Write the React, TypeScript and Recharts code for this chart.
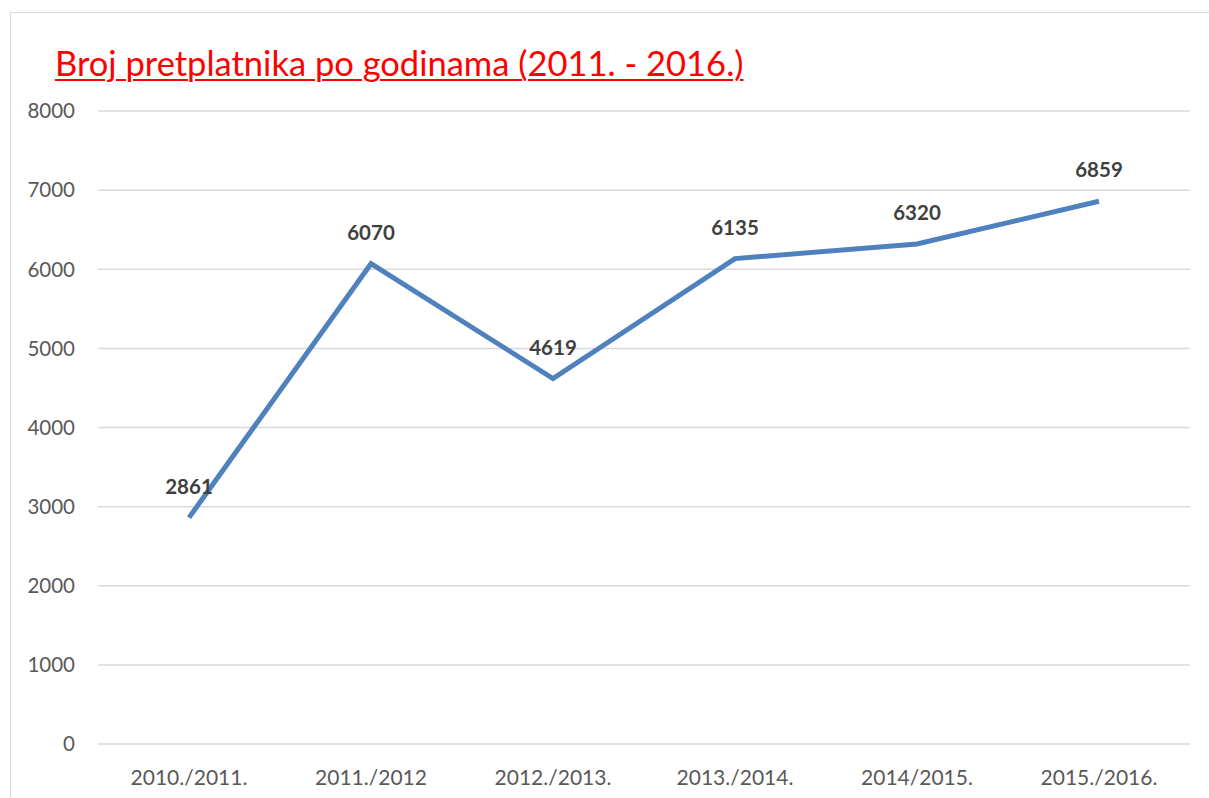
import React from "react";
import {
  LineChart,
  Line,
  XAxis,
  YAxis,
  CartesianGrid,
  LabelList,
} from "recharts";

const seasons = [
  "2010./2011.",
  "2011./2012",
  "2012./2013.",
  "2013./2014.",
  "2014/2015.",
  "2015./2016.",
];
const subscribers = [2861, 6070, 4619, 6135, 6320, 6859];
const yTicks = [0, 1000, 2000, 3000, 4000, 5000, 6000, 7000, 8000];

const data = seasons.map((season, i) => ({ season, value: subscribers[i] }));

const font = "Lato, 'Open Sans', sans-serif";

export default function App() {
  return (
    <div
      style={{
        position: "absolute",
        left: 0,
        top: 0,
        width: 1209,
        height: 798,
        background: "#fff",
        overflow: "hidden",
        fontFamily: font,
      }}
    >
      {/* chart frame */}
      <div
        style={{
          position: "absolute",
          left: 10,
          top: 12,
          width: 1220,
          height: 820,
          border: "1.5px solid #d9d9d9",
          boxSizing: "border-box",
        }}
      />
      <div
        style={{
          position: "absolute",
          left: 55,
          top: 42,
          fontSize: 34.5,
          color: "#ff0000",
          textDecoration: "underline",
          textDecorationThickness: 2,
          textUnderlineOffset: 3,
          whiteSpace: "nowrap",
        }}
      >
        Broj pretplatnika po godinama (2011. - 2016.)
      </div>
      <div style={{ position: "absolute", left: 0, top: 0 }}>
        <LineChart
          width={1209}
          height={798}
          data={data}
          margin={{ top: 111, right: 19, left: 8, bottom: 14 }}
        >
          <CartesianGrid vertical={false} stroke="#d9d9d9" strokeWidth={1.5} />
          <XAxis
            dataKey="season"
            axisLine={false}
            tickLine={false}
            height={40}
            tickMargin={20}
            padding={{ left: 91, right: 91 }}
            interval={0}
            tick={{ fill: "#595959", fontSize: 21, fontFamily: font }}
          />
          <YAxis
            domain={[0, 8000]}
            ticks={yTicks}
            width={90}
            axisLine={false}
            tickLine={false}
            tickSize={0}
            tickMargin={23}
            tick={{ fill: "#595959", fontSize: 20.5, fontFamily: font }}
          />
          <Line
            dataKey="value"
            stroke="#4f81bd"
            strokeWidth={5}
            dot={false}
            isAnimationActive={false}
          >
            <LabelList
              dataKey="value"
              position="top"
              offset={24}
              fill="#404040"
              fontSize={20.5}
              fontWeight="bold"
              fontFamily={font}
            />
          </Line>
        </LineChart>
      </div>
    </div>
  );
}
